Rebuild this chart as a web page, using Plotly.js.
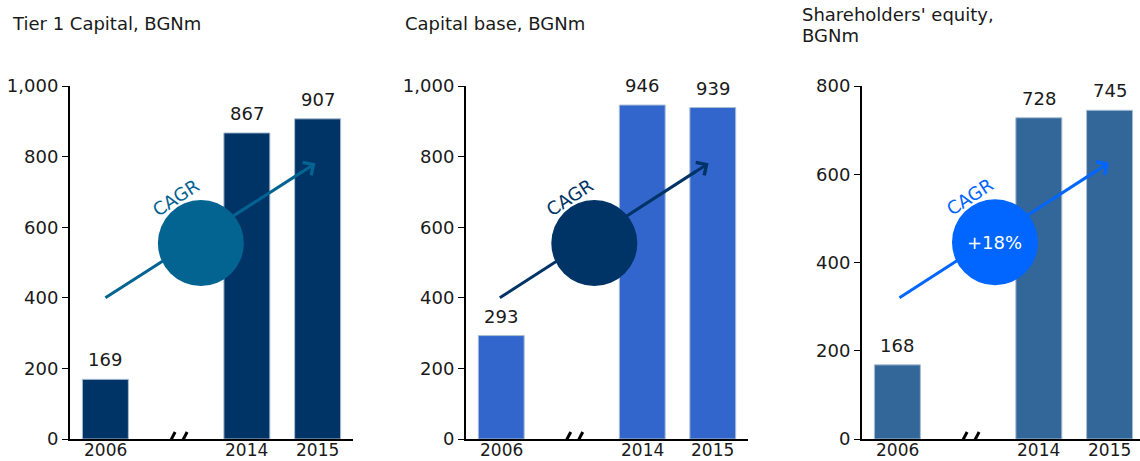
<!DOCTYPE html>
<html>
<head>
<meta charset="utf-8">
<script src="https://cdn.plot.ly/plotly-3.0.1.min.js"></script>
<style>html,body{margin:0;padding:0;background:#fff;}#chart{width:1140px;height:461px;}</style>
</head>
<body>
<div id="chart"></div>
<script>
// ---- data ----
const categories = ['2006', ' ', '2014', '2015'];
const barYears = ['2006', '2014', '2015'];
const tier1Capital = [169, 867, 907];
const capitalBase = [293, 946, 939];
const shareholdersEquity = [168, 728, 745];
const panelTitles = ['Tier 1 Capital, BGNm', 'Capital base, BGNm', "Shareholders' equity,", 'BGNm'];
const cagrLabel = 'CAGR';
const cagrValue = '+18%';

// ---- styles / layout helpers ----
const FONT = 'DejaVu Sans, Verdana, sans-serif';
const TXT = '#1a1a1a';
const W = 1140, H = 461, T = 86, B = 22;
const plotH = H - T - B;
const py = p => (H - B - p) / plotH;   // pixel y -> paper y
const px = p => p / W;                  // pixel x -> paper x
const catIdx = c => categories.indexOf(c);

const panels = [
  {vals: tier1Capital, bar: '#003366', accent: '#036391', dom: [70, 353], xr: [-0.5, 3.5], yr: [0, 1000],
   arrow: [0, 400, 2.97, 781], circle: [1.35, 555], pct: ''},
  {vals: capitalBase, bar: '#3366cc', accent: '#003366', dom: [466, 748], xr: [-0.5, 3.5], yr: [0, 1000],
   arrow: [-0.02, 400, 2.94, 781], circle: [1.32, 555], pct: ''},
  {vals: shareholdersEquity, bar: '#336699', accent: '#0066ff', dom: [862, 1140], xr: [-0.5, 3.43], yr: [0, 800],
   arrow: [0.03, 320, 2.99, 626], circle: [1.38, 446], pct: cagrValue}
];

const traces = [];
const shapes = [];
const annotations = [];
const layout = {
  width: W, height: H,
  margin: {l: 0, r: 0, t: T, b: B, pad: 0},
  paper_bgcolor: '#ffffff', plot_bgcolor: '#ffffff',
  showlegend: false,
  font: {family: FONT, size: 18, color: TXT},
  bargap: 0.35
};

panels.forEach((p, i) => {
  const n = i === 0 ? '' : String(i + 1);
  const xa = 'x' + n, ya = 'y' + n;
  traces.push({
    type: 'bar', x: barYears, y: p.vals, xaxis: xa, yaxis: ya,
    width: 0.65,
    marker: {color: p.bar, line: {color: '#a9bdd3', width: 1}},
    hoverinfo: 'x+y'
  });
  layout['xaxis' + n] = {
    domain: [px(p.dom[0]), px(p.dom[1])], anchor: ya,
    type: 'category', categoryorder: 'array', categoryarray: categories,
    range: p.xr, showgrid: false, zeroline: false,
    showline: true, linecolor: '#000', linewidth: 2,
    ticks: '', showticklabels: false, fixedrange: true
  };
  layout['yaxis' + n] = {
    domain: [0, 1], anchor: xa, range: p.yr, dtick: 200, tickformat: ',d',
    showgrid: false, zeroline: false,
    showline: true, linecolor: '#000', linewidth: 2,
    ticks: 'outside', ticklen: 6, tickwidth: 1, tickcolor: '#000',
    tickfont: {family: FONT, size: 18, color: TXT}, fixedrange: true
  };
  // category labels under the axis
  barYears.forEach(yr => {
    annotations.push({xref: xa, yref: ya, x: catIdx(yr), y: 0, text: yr, showarrow: false,
      yanchor: 'middle', yshift: -11, borderpad: 0, font: {family: FONT, size: 17, color: TXT}});
  });
  // value labels
  barYears.forEach((yr, k) => {
    annotations.push({xref: xa, yref: ya, x: catIdx(yr), y: p.vals[k], text: String(p.vals[k]),
      showarrow: false, yanchor: 'bottom', yshift: 7, font: {family: FONT, size: 18, color: TXT}});
  });
  // arrow line (under the circle)
  const [ax0, ay0, ax1, ay1] = p.arrow;
  const t = 0.94;
  shapes.push({type: 'line', layer: 'above', xref: xa, yref: ya,
    x0: ax0, y0: ay0, x1: ax0 + (ax1 - ax0) * t, y1: ay0 + (ay1 - ay0) * t,
    line: {color: p.accent, width: 3}});
  // circle
  shapes.push({type: 'circle', layer: 'above', xref: xa, yref: ya,
    xsizemode: 'pixel', ysizemode: 'pixel', xanchor: p.circle[0], yanchor: p.circle[1],
    x0: -43, x1: 43, y0: -43, y1: 43,
    fillcolor: p.accent, line: {width: 0}});
  // arrowhead
  annotations.push({xref: xa, yref: ya, x: ax1, y: ay1, text: '', showarrow: true,
    ax: -17, ay: 11, arrowhead: 4, arrowsize: 1, arrowwidth: 3, arrowcolor: p.accent});
  // CAGR label
  annotations.push({xref: xa, yref: ya, x: p.circle[0], y: p.circle[1], text: cagrLabel,
    showarrow: false, xshift: -25, yshift: 46, textangle: -33,
    font: {family: FONT, size: 18, color: p.accent}});
  if (p.pct) {
    annotations.push({xref: xa, yref: ya, x: p.circle[0], y: p.circle[1], text: p.pct,
      showarrow: false, font: {family: FONT, size: 18, color: '#ffffff'}});
  }
  // axis break marks
  [-6, 6].forEach(c => {
    shapes.push({type: 'line', layer: 'above', xref: xa, yref: ya,
      xsizemode: 'pixel', ysizemode: 'pixel', xanchor: 1, yanchor: 0,
      x0: c - 6, x1: c + 5, y0: -14, y1: 7, line: {color: '#000', width: 3}});
  });
});

// titles
annotations.push({xref: 'paper', yref: 'paper', x: px(10), y: py(23), xanchor: 'left', yanchor: 'middle',
  text: panelTitles[0], showarrow: false, font: {family: FONT, size: 18, color: TXT}});
annotations.push({xref: 'paper', yref: 'paper', x: px(403), y: py(23), xanchor: 'left', yanchor: 'middle',
  text: panelTitles[1], showarrow: false, font: {family: FONT, size: 18, color: TXT}});
annotations.push({xref: 'paper', yref: 'paper', x: px(800), y: py(15), xanchor: 'left', yanchor: 'middle',
  text: panelTitles[2], showarrow: false, font: {family: FONT, size: 18, color: TXT}});
annotations.push({xref: 'paper', yref: 'paper', x: px(800), y: py(35), xanchor: 'left', yanchor: 'middle',
  text: panelTitles[3], showarrow: false, font: {family: FONT, size: 18, color: TXT}});

layout.shapes = shapes;
layout.annotations = annotations;

Plotly.newPlot('chart', traces, layout, {displayModeBar: false, staticPlot: true});
</script>
</body>
</html>
